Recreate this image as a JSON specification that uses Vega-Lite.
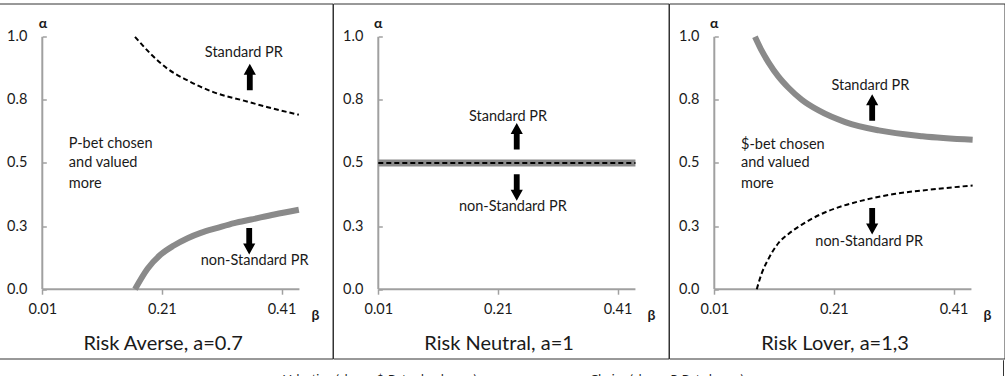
{
  "$schema": "https://vega.github.io/schema/vega-lite/v6.json",
  "padding": {"left": -4, "top": 2.5, "right": 0, "bottom": 0},
  "config": {
    "view": {"stroke": "#333333", "strokeWidth": 1},
    "font": "Lato",
    "text": {"font": "Lato", "color": "#1a1a1a"}
  },
  "datasets": {
    "curves": [
      {"panel": "averse", "series": "choice", "beta": 0.165, "alpha": 0.0},
      {"panel": "averse", "series": "choice", "beta": 0.186, "alpha": 0.081},
      {"panel": "averse", "series": "choice", "beta": 0.208, "alpha": 0.137},
      {"panel": "averse", "series": "choice", "beta": 0.230, "alpha": 0.173},
      {"panel": "averse", "series": "choice", "beta": 0.253, "alpha": 0.202},
      {"panel": "averse", "series": "choice", "beta": 0.275, "alpha": 0.223},
      {"panel": "averse", "series": "choice", "beta": 0.303, "alpha": 0.243},
      {"panel": "averse", "series": "choice", "beta": 0.331, "alpha": 0.262},
      {"panel": "averse", "series": "choice", "beta": 0.359, "alpha": 0.276},
      {"panel": "averse", "series": "choice", "beta": 0.398, "alpha": 0.296},
      {"panel": "averse", "series": "choice", "beta": 0.439, "alpha": 0.315},
      {"panel": "averse", "series": "valuation", "beta": 0.165, "alpha": 1.0},
      {"panel": "averse", "series": "valuation", "beta": 0.191, "alpha": 0.933},
      {"panel": "averse", "series": "valuation", "beta": 0.219, "alpha": 0.874},
      {"panel": "averse", "series": "valuation", "beta": 0.253, "alpha": 0.827},
      {"panel": "averse", "series": "valuation", "beta": 0.297, "alpha": 0.78},
      {"panel": "averse", "series": "valuation", "beta": 0.347, "alpha": 0.747},
      {"panel": "averse", "series": "valuation", "beta": 0.387, "alpha": 0.721},
      {"panel": "averse", "series": "valuation", "beta": 0.439, "alpha": 0.691},
      {"panel": "neutral", "series": "choice", "beta": 0.01, "alpha": 0.5},
      {"panel": "neutral", "series": "choice", "beta": 0.44, "alpha": 0.5},
      {"panel": "neutral", "series": "valuation", "beta": 0.01, "alpha": 0.5},
      {"panel": "neutral", "series": "valuation", "beta": 0.44, "alpha": 0.5},
      {"panel": "lover", "series": "choice", "beta": 0.078, "alpha": 1.0},
      {"panel": "lover", "series": "choice", "beta": 0.089, "alpha": 0.946},
      {"panel": "lover", "series": "choice", "beta": 0.1006, "alpha": 0.899},
      {"panel": "lover", "series": "choice", "beta": 0.117, "alpha": 0.843},
      {"panel": "lover", "series": "choice", "beta": 0.134, "alpha": 0.798},
      {"panel": "lover", "series": "choice", "beta": 0.1565, "alpha": 0.75},
      {"panel": "lover", "series": "choice", "beta": 0.1845, "alpha": 0.708},
      {"panel": "lover", "series": "choice", "beta": 0.229, "alpha": 0.662},
      {"panel": "lover", "series": "choice", "beta": 0.285, "alpha": 0.629},
      {"panel": "lover", "series": "choice", "beta": 0.358, "alpha": 0.606},
      {"panel": "lover", "series": "choice", "beta": 0.442, "alpha": 0.592},
      {"panel": "lover", "series": "valuation", "beta": 0.081, "alpha": 0.0},
      {"panel": "lover", "series": "valuation", "beta": 0.089, "alpha": 0.061},
      {"panel": "lover", "series": "valuation", "beta": 0.1006, "alpha": 0.12},
      {"panel": "lover", "series": "valuation", "beta": 0.117, "alpha": 0.182},
      {"panel": "lover", "series": "valuation", "beta": 0.134, "alpha": 0.219},
      {"panel": "lover", "series": "valuation", "beta": 0.1565, "alpha": 0.256},
      {"panel": "lover", "series": "valuation", "beta": 0.19, "alpha": 0.299},
      {"panel": "lover", "series": "valuation", "beta": 0.2236, "alpha": 0.329},
      {"panel": "lover", "series": "valuation", "beta": 0.257, "alpha": 0.351},
      {"panel": "lover", "series": "valuation", "beta": 0.313, "alpha": 0.378},
      {"panel": "lover", "series": "valuation", "beta": 0.369, "alpha": 0.394},
      {"panel": "lover", "series": "valuation", "beta": 0.442, "alpha": 0.411}
    ],
    "arrows": [
      {"panel": "averse", "dir": "up", "beta": 0.357, "alpha": 0.841},
      {"panel": "averse", "dir": "down", "beta": 0.356, "alpha": 0.19},
      {"panel": "neutral", "dir": "up", "beta": 0.2415, "alpha": 0.606},
      {"panel": "neutral", "dir": "down", "beta": 0.2415, "alpha": 0.403},
      {"panel": "lover", "dir": "up", "beta": 0.274, "alpha": 0.72},
      {"panel": "lover", "dir": "down", "beta": 0.274, "alpha": 0.269}
    ],
    "notes": [
      {"panel": "averse", "kind": "boundary", "label": "Standard PR", "beta": 0.347, "alpha": 0.934},
      {"panel": "averse", "kind": "boundary", "label": "non-Standard PR", "beta": 0.365, "alpha": 0.11},
      {"panel": "averse", "kind": "region", "label": "P-bet chosen", "beta": 0.0544, "alpha": 0.577},
      {"panel": "averse", "kind": "region", "label": "and valued", "beta": 0.0544, "alpha": 0.498},
      {"panel": "averse", "kind": "region", "label": "more", "beta": 0.0544, "alpha": 0.418},
      {"panel": "neutral", "kind": "boundary", "label": "Standard PR", "beta": 0.227, "alpha": 0.684},
      {"panel": "neutral", "kind": "boundary", "label": "non-Standard PR", "beta": 0.235, "alpha": 0.324},
      {"panel": "lover", "kind": "boundary", "label": "Standard PR", "beta": 0.271, "alpha": 0.807},
      {"panel": "lover", "kind": "region", "label": "$-bet chosen", "beta": 0.0546, "alpha": 0.573},
      {"panel": "lover", "kind": "region", "label": "and valued", "beta": 0.0546, "alpha": 0.498},
      {"panel": "lover", "kind": "region", "label": "more", "beta": 0.0546, "alpha": 0.418},
      {"panel": "lover", "kind": "boundary", "label": "non-Standard PR", "beta": 0.269, "alpha": 0.185}
    ],
    "unit": [{}]
  },
  "spacing": 0,
  "vconcat": [
    {
      "spacing": 0,
      "bounds": "flush",
      "hconcat": [
        {
          "width": 335.5,
          "height": 355,
          "layer": [
            {"data": {"name": "unit"},
             "mark": {"type": "rule", "color": "#a0a0a0", "strokeWidth": 2},
             "encoding": {
               "x": {"datum": 0.01, "type": "quantitative", "scale": {"domain": [-0.06575, 0.49528], "nice": false, "zero": false},
                     "axis": {"values": [0.01, 0.21, 0.41], "format": ".2f", "offset": -69.3, "domain": false, "grid": false, "title": null, "tickSize": 5, "tickColor": "#a0a0a0", "tickWidth": 1.5, "labelPadding": 8, "labelFont": "Lato", "labelFontSize": 14.5, "labelColor": "#1a1a1a", "labelFlush": false, "labelOverlap": false}},
               "x2": {"datum": 0.44},
               "y": {"datum": 0, "type": "quantitative", "scale": {"domain": [-0.2746, 1.1319], "nice": false, "zero": false},
                     "axis": {"values": [0, 0.25, 0.5, 0.75, 1], "format": ".1f", "offset": -45.3, "domain": false, "grid": false, "title": null, "tickSize": -4, "tickColor": "#a0a0a0", "tickWidth": 1.5, "labelPadding": 19.5, "labelFont": "Lato", "labelFontSize": 14.5, "labelColor": "#1a1a1a", "labelOverlap": false}}
             }},
            {"data": {"name": "unit"},
             "mark": {"type": "rule", "color": "#a0a0a0", "strokeWidth": 2},
             "encoding": {"x": {"datum": 0.01, "type": "quantitative"}, "y": {"datum": 0, "type": "quantitative"}, "y2": {"datum": 1}}},
            {"data": {"name": "curves"},
             "transform": [{"filter": "datum.panel == 'averse' && datum.series == 'choice'"}],
             "mark": {"type": "line", "color": "#8a8a8a", "strokeWidth": 6, "interpolate": "monotone", "strokeCap": "butt"},
             "encoding": {"x": {"field": "beta", "type": "quantitative"}, "y": {"field": "alpha", "type": "quantitative"}}},
            {"data": {"name": "curves"},
             "transform": [{"filter": "datum.panel == 'averse' && datum.series == 'valuation'"}],
             "mark": {"type": "line", "color": "#000000", "strokeWidth": 2, "strokeDash": [5, 3], "interpolate": "monotone"},
             "encoding": {"x": {"field": "beta", "type": "quantitative"}, "y": {"field": "alpha", "type": "quantitative"}}},
            {"data": {"name": "arrows"},
             "transform": [{"filter": "datum.panel == 'averse'"}],
             "mark": {"type": "point", "filled": true, "opacity": 1, "color": "#000000", "size": 700},
             "encoding": {"x": {"field": "beta", "type": "quantitative"}, "y": {"field": "alpha", "type": "quantitative"},
                          "shape": {"field": "dir", "type": "nominal", "legend": null, "scale": {"domain": ["up", "down"], "range": ["M0,-1L0.46,-0.17L0.22,-0.17L0.22,1L-0.22,1L-0.22,-0.17L-0.46,-0.17Z", "M0,1L0.46,0.17L0.22,0.17L0.22,-1L-0.22,-1L-0.22,0.17L-0.46,0.17Z"]}}}},
            {"data": {"name": "notes"},
             "transform": [{"filter": "datum.panel == 'averse' && datum.kind == 'boundary'"}],
             "mark": {"type": "text", "fontSize": 14.5, "align": "center", "baseline": "middle"},
             "encoding": {"x": {"field": "beta", "type": "quantitative"}, "y": {"field": "alpha", "type": "quantitative"}, "text": {"field": "label"}}},
            {"data": {"name": "notes"},
             "transform": [{"filter": "datum.panel == 'averse' && datum.kind == 'region'"}],
             "mark": {"type": "text", "fontSize": 14.5, "align": "left", "baseline": "middle"},
             "encoding": {"x": {"field": "beta", "type": "quantitative"}, "y": {"field": "alpha", "type": "quantitative"}, "text": {"field": "label"}}},
            {"data": {"name": "unit"},
             "mark": {"type": "text", "text": "α", "fontSize": 14, "fontWeight": "bold", "align": "center", "baseline": "middle"},
             "encoding": {"x": {"datum": 0.011, "type": "quantitative"}, "y": {"datum": 1.05, "type": "quantitative"}}},
            {"data": {"name": "unit"},
             "mark": {"type": "text", "text": "β", "fontSize": 14, "fontWeight": "bold", "align": "center", "baseline": "middle"},
             "encoding": {"x": {"datum": 0.467, "type": "quantitative"}, "y": {"datum": -0.108, "type": "quantitative"}}},
            {"data": {"name": "unit"},
             "mark": {"type": "text", "text": "Risk Averse, a=0.7", "fontSize": 20, "align": "center", "baseline": "alphabetic"},
             "encoding": {"x": {"datum": 0.212, "type": "quantitative"}, "y": {"datum": -0.24, "type": "quantitative"}}}
          ]
        },
        {
          "width": 335.5,
          "height": 355,
          "layer": [
            {"data": {"name": "unit"},
             "mark": {"type": "rule", "color": "#a0a0a0", "strokeWidth": 2},
             "encoding": {
               "x": {"datum": 0.01, "type": "quantitative", "scale": {"domain": [-0.06575, 0.49528], "nice": false, "zero": false},
                     "axis": {"values": [0.01, 0.21, 0.41], "format": ".2f", "offset": -69.3, "domain": false, "grid": false, "title": null, "tickSize": 5, "tickColor": "#a0a0a0", "tickWidth": 1.5, "labelPadding": 8, "labelFont": "Lato", "labelFontSize": 14.5, "labelColor": "#1a1a1a", "labelFlush": false, "labelOverlap": false}},
               "x2": {"datum": 0.44},
               "y": {"datum": 0, "type": "quantitative", "scale": {"domain": [-0.2746, 1.1319], "nice": false, "zero": false},
                     "axis": {"values": [0, 0.25, 0.5, 0.75, 1], "format": ".1f", "offset": -45.3, "domain": false, "grid": false, "title": null, "tickSize": -4, "tickColor": "#a0a0a0", "tickWidth": 1.5, "labelPadding": 19.5, "labelFont": "Lato", "labelFontSize": 14.5, "labelColor": "#1a1a1a", "labelOverlap": false}}
             }},
            {"data": {"name": "unit"},
             "mark": {"type": "rule", "color": "#a0a0a0", "strokeWidth": 2},
             "encoding": {"x": {"datum": 0.01, "type": "quantitative"}, "y": {"datum": 0, "type": "quantitative"}, "y2": {"datum": 1}}},
            {"data": {"name": "curves"},
             "transform": [{"filter": "datum.panel == 'neutral' && datum.series == 'choice'"}],
             "mark": {"type": "line", "color": "#8a8a8a", "strokeWidth": 7, "interpolate": "monotone", "strokeCap": "butt"},
             "encoding": {"x": {"field": "beta", "type": "quantitative"}, "y": {"field": "alpha", "type": "quantitative"}}},
            {"data": {"name": "curves"},
             "transform": [{"filter": "datum.panel == 'neutral' && datum.series == 'valuation'"}],
             "mark": {"type": "line", "color": "#000000", "strokeWidth": 2, "strokeDash": [5, 3], "interpolate": "monotone"},
             "encoding": {"x": {"field": "beta", "type": "quantitative"}, "y": {"field": "alpha", "type": "quantitative"}}},
            {"data": {"name": "arrows"},
             "transform": [{"filter": "datum.panel == 'neutral'"}],
             "mark": {"type": "point", "filled": true, "opacity": 1, "color": "#000000", "size": 700},
             "encoding": {"x": {"field": "beta", "type": "quantitative"}, "y": {"field": "alpha", "type": "quantitative"},
                          "shape": {"field": "dir", "type": "nominal", "legend": null, "scale": {"domain": ["up", "down"], "range": ["M0,-1L0.46,-0.17L0.22,-0.17L0.22,1L-0.22,1L-0.22,-0.17L-0.46,-0.17Z", "M0,1L0.46,0.17L0.22,0.17L0.22,-1L-0.22,-1L-0.22,0.17L-0.46,0.17Z"]}}}},
            {"data": {"name": "notes"},
             "transform": [{"filter": "datum.panel == 'neutral' && datum.kind == 'boundary'"}],
             "mark": {"type": "text", "fontSize": 14.5, "align": "center", "baseline": "middle"},
             "encoding": {"x": {"field": "beta", "type": "quantitative"}, "y": {"field": "alpha", "type": "quantitative"}, "text": {"field": "label"}}},
            {"data": {"name": "unit"},
             "mark": {"type": "text", "text": "α", "fontSize": 14, "fontWeight": "bold", "align": "center", "baseline": "middle"},
             "encoding": {"x": {"datum": 0.01, "type": "quantitative"}, "y": {"datum": 1.05, "type": "quantitative"}}},
            {"data": {"name": "unit"},
             "mark": {"type": "text", "text": "β", "fontSize": 14, "fontWeight": "bold", "align": "center", "baseline": "middle"},
             "encoding": {"x": {"datum": 0.467, "type": "quantitative"}, "y": {"datum": -0.108, "type": "quantitative"}}},
            {"data": {"name": "unit"},
             "mark": {"type": "text", "text": "Risk Neutral, a=1", "fontSize": 20, "align": "center", "baseline": "alphabetic"},
             "encoding": {"x": {"datum": 0.212, "type": "quantitative"}, "y": {"datum": -0.24, "type": "quantitative"}}}
          ]
        },
        {
          "width": 335.5,
          "height": 355,
          "layer": [
            {"data": {"name": "unit"},
             "mark": {"type": "rule", "color": "#a0a0a0", "strokeWidth": 2},
             "encoding": {
               "x": {"datum": 0.01, "type": "quantitative", "scale": {"domain": [-0.06575, 0.49528], "nice": false, "zero": false},
                     "axis": {"values": [0.01, 0.21, 0.41], "format": ".2f", "offset": -69.3, "domain": false, "grid": false, "title": null, "tickSize": 5, "tickColor": "#a0a0a0", "tickWidth": 1.5, "labelPadding": 8, "labelFont": "Lato", "labelFontSize": 14.5, "labelColor": "#1a1a1a", "labelFlush": false, "labelOverlap": false}},
               "x2": {"datum": 0.44},
               "y": {"datum": 0, "type": "quantitative", "scale": {"domain": [-0.2746, 1.1319], "nice": false, "zero": false},
                     "axis": {"values": [0, 0.25, 0.5, 0.75, 1], "format": ".1f", "offset": -45.3, "domain": false, "grid": false, "title": null, "tickSize": -4, "tickColor": "#a0a0a0", "tickWidth": 1.5, "labelPadding": 19.5, "labelFont": "Lato", "labelFontSize": 14.5, "labelColor": "#1a1a1a", "labelOverlap": false}}
             }},
            {"data": {"name": "unit"},
             "mark": {"type": "rule", "color": "#a0a0a0", "strokeWidth": 2},
             "encoding": {"x": {"datum": 0.01, "type": "quantitative"}, "y": {"datum": 0, "type": "quantitative"}, "y2": {"datum": 1}}},
            {"data": {"name": "curves"},
             "transform": [{"filter": "datum.panel == 'lover' && datum.series == 'choice'"}],
             "mark": {"type": "line", "color": "#8a8a8a", "strokeWidth": 6, "interpolate": "monotone", "strokeCap": "butt"},
             "encoding": {"x": {"field": "beta", "type": "quantitative"}, "y": {"field": "alpha", "type": "quantitative"}}},
            {"data": {"name": "curves"},
             "transform": [{"filter": "datum.panel == 'lover' && datum.series == 'valuation'"}],
             "mark": {"type": "line", "color": "#000000", "strokeWidth": 2, "strokeDash": [5, 3], "interpolate": "monotone"},
             "encoding": {"x": {"field": "beta", "type": "quantitative"}, "y": {"field": "alpha", "type": "quantitative"}}},
            {"data": {"name": "arrows"},
             "transform": [{"filter": "datum.panel == 'lover'"}],
             "mark": {"type": "point", "filled": true, "opacity": 1, "color": "#000000", "size": 700},
             "encoding": {"x": {"field": "beta", "type": "quantitative"}, "y": {"field": "alpha", "type": "quantitative"},
                          "shape": {"field": "dir", "type": "nominal", "legend": null, "scale": {"domain": ["up", "down"], "range": ["M0,-1L0.46,-0.17L0.22,-0.17L0.22,1L-0.22,1L-0.22,-0.17L-0.46,-0.17Z", "M0,1L0.46,0.17L0.22,0.17L0.22,-1L-0.22,-1L-0.22,0.17L-0.46,0.17Z"]}}}},
            {"data": {"name": "notes"},
             "transform": [{"filter": "datum.panel == 'lover' && datum.kind == 'boundary'"}],
             "mark": {"type": "text", "fontSize": 14.5, "align": "center", "baseline": "middle"},
             "encoding": {"x": {"field": "beta", "type": "quantitative"}, "y": {"field": "alpha", "type": "quantitative"}, "text": {"field": "label"}}},
            {"data": {"name": "notes"},
             "transform": [{"filter": "datum.panel == 'lover' && datum.kind == 'region'"}],
             "mark": {"type": "text", "fontSize": 14.5, "align": "left", "baseline": "middle"},
             "encoding": {"x": {"field": "beta", "type": "quantitative"}, "y": {"field": "alpha", "type": "quantitative"}, "text": {"field": "label"}}},
            {"data": {"name": "unit"},
             "mark": {"type": "text", "text": "α", "fontSize": 14, "fontWeight": "bold", "align": "center", "baseline": "middle"},
             "encoding": {"x": {"datum": 0.01, "type": "quantitative"}, "y": {"datum": 1.05, "type": "quantitative"}}},
            {"data": {"name": "unit"},
             "mark": {"type": "text", "text": "β", "fontSize": 14, "fontWeight": "bold", "align": "center", "baseline": "middle"},
             "encoding": {"x": {"datum": 0.467, "type": "quantitative"}, "y": {"datum": -0.108, "type": "quantitative"}}},
            {"data": {"name": "unit"},
             "mark": {"type": "text", "text": "Risk Lover, a=1,3", "fontSize": 20, "align": "center", "baseline": "alphabetic"},
             "encoding": {"x": {"datum": 0.212, "type": "quantitative"}, "y": {"datum": -0.24, "type": "quantitative"}}}
          ]
        }
      ]
    },
    {
      "width": 1006.5,
      "height": 18,
      "view": {"stroke": null},
      "data": {"values": [
        {"order": 1, "legend": "Valuation (above: $-Bet valued more)"},
        {"order": 2, "legend": "Choice (above: P-Bet chosen)"}
      ]},
      "layer": [
        {"mark": {"type": "text", "fontSize": 12, "baseline": "middle", "align": "center", "clip": true},
         "encoding": {
           "x": {"field": "order", "type": "quantitative", "axis": null,
                 "scale": {"domain": [-0.3345, 3.1725], "nice": false, "zero": false}},
           "y": {"value": "height"},
           "text": {"field": "legend"}
         }},
        {"mark": {"type": "rule", "color": "#333333", "strokeWidth": 1},
         "encoding": {"x": {"value": "width"}}}
      ]
    }
  ]
}
